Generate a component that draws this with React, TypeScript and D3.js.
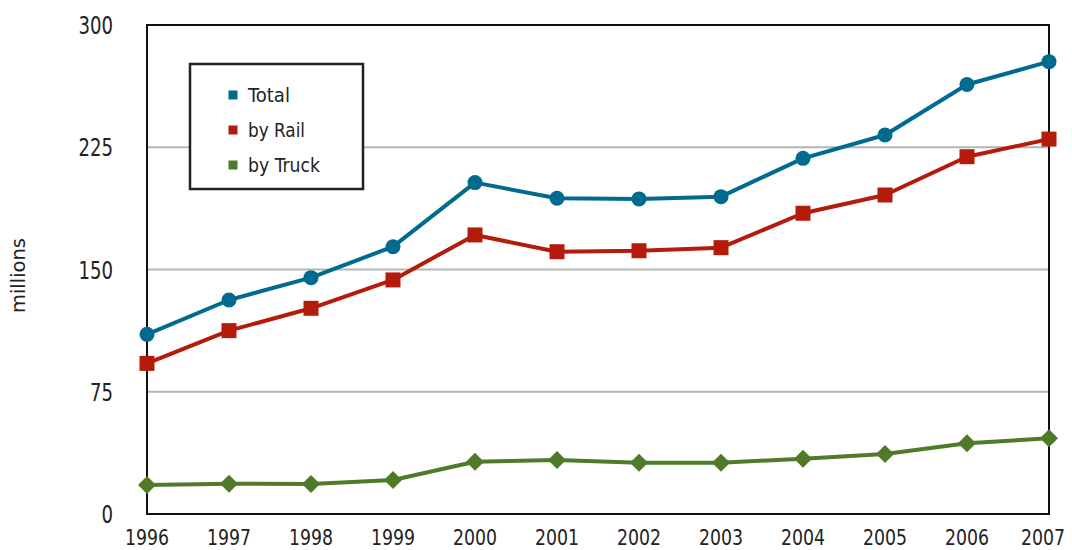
import React from "react";
import * as d3 from "d3";

const years = [1996, 1997, 1998, 1999, 2000, 2001, 2002, 2003, 2004, 2005, 2006, 2007];
const totalValues = [110.2, 131.3, 145.0, 164.0, 203.3, 193.7, 193.3, 194.7, 218.2, 232.5, 263.5, 277.5];
const railValues = [92.4, 112.5, 126.2, 143.6, 171.2, 160.9, 161.5, 163.4, 184.5, 195.7, 219.2, 230.0];
const truckValues = [17.8, 18.6, 18.4, 20.9, 32.1, 33.1, 31.5, 31.5, 33.9, 36.8, 43.4, 46.4];
const yTicks = [0, 75, 150, 225, 300];
const seriesNames = ["Total", "by Rail", "by Truck"];
const legendWidths = [42, 57, 72];

const W = 1072;
const H = 550;
const margin = { left: 147, right: 1049, top: 25, bottom: 514 };
const COLORS = ["#006b8e", "#b51b0a", "#4f7a28"];
const FONT = "'DejaVu Sans Condensed', 'DejaVu Sans', sans-serif";
const DIGIT_W = 11.5;
const X_DIGIT_W = 11;

export default function App() {
  const x = d3.scalePoint<number>().domain(years).range([margin.left, margin.right]);
  const y = d3.scaleLinear().domain([0, 300]).range([margin.bottom, margin.top]);
  const line = d3
    .line<number>()
    .x((_, i) => x(years[i]) as number)
    .y((d) => y(d));

  const series = [totalValues, railValues, truckValues];

  return (
    <svg width={W} height={H} style={{ position: "absolute", left: 0, top: 0, background: "#fff" }}>
      {/* gridlines */}
      {yTicks.slice(1, -1).map((t) => (
        <line key={t} x1={margin.left} x2={margin.right} y1={y(t)} y2={y(t)} stroke="#b5b5b5" strokeWidth={2} />
      ))}
      {/* frame */}
      <rect
        x={margin.left}
        y={margin.top}
        width={margin.right - margin.left}
        height={margin.bottom - margin.top}
        fill="none"
        stroke="#111"
        strokeWidth={2}
      />
      {/* y tick labels */}
      {yTicks.map((t) => {
        const w = String(t).length * DIGIT_W;
        return (
          <text
            key={t}
            x={113 - w}
            y={y(t) + 9}
            textLength={w}
            lengthAdjust="spacingAndGlyphs"
            fontFamily={FONT}
            fontSize={25}
            fill="#222"
          >
            {t}
          </text>
        );
      })}
      {/* x tick labels */}
      {years.map((yr) => {
        const w = String(yr).length * X_DIGIT_W;
        const left = Math.min((x(yr) as number) - w / 2, W - 7 - w);
        return (
          <text
            key={yr}
            x={left}
            y={545}
            textLength={w}
            lengthAdjust="spacingAndGlyphs"
            fontFamily={FONT}
            fontSize={22}
            fill="#222"
          >
            {yr}
          </text>
        );
      })}
      {/* y axis title */}
      <text
        transform={`translate(25,313) rotate(-90)`}
        textLength={75}
        lengthAdjust="spacingAndGlyphs"
        fontFamily={FONT}
        fontSize={20}
        fill="#222"
      >
        millions
      </text>
      {/* lines */}
      {series.map((vals, si) => (
        <path key={si} d={line(vals) || ""} fill="none" stroke={COLORS[si]} strokeWidth={4} strokeLinejoin="round" />
      ))}
      {/* markers */}
      {totalValues.map((v, i) => (
        <circle key={"c" + i} cx={x(years[i])} cy={y(v)} r={7.5} fill={COLORS[0]} />
      ))}
      {railValues.map((v, i) => (
        <rect key={"r" + i} x={(x(years[i]) as number) - 7.5} y={y(v) - 7.5} width={15} height={15} fill={COLORS[1]} />
      ))}
      {truckValues.map((v, i) => {
        const cx = x(years[i]) as number;
        const cy = y(v);
        const s = 9;
        return (
          <path
            key={"d" + i}
            d={`M${cx},${cy - s}L${cx + s},${cy}L${cx},${cy + s}L${cx - s},${cy}Z`}
            fill={COLORS[2]}
          />
        );
      })}
      {/* legend */}
      <rect x={190} y={64} width={173} height={125} fill="#fff" stroke="#222" strokeWidth={2.5} />
      {seriesNames.map((n, i) => (
        <g key={n}>
          <rect x={228.5} y={90.5 + i * 35} width={9} height={9} fill={COLORS[i]} />
          <text
            x={248}
            y={102 + i * 35}
            textLength={legendWidths[i]}
            lengthAdjust="spacingAndGlyphs"
            fontFamily={FONT}
            fontSize={19}
            fill="#222"
          >
            {n}
          </text>
        </g>
      ))}
    </svg>
  );
}
